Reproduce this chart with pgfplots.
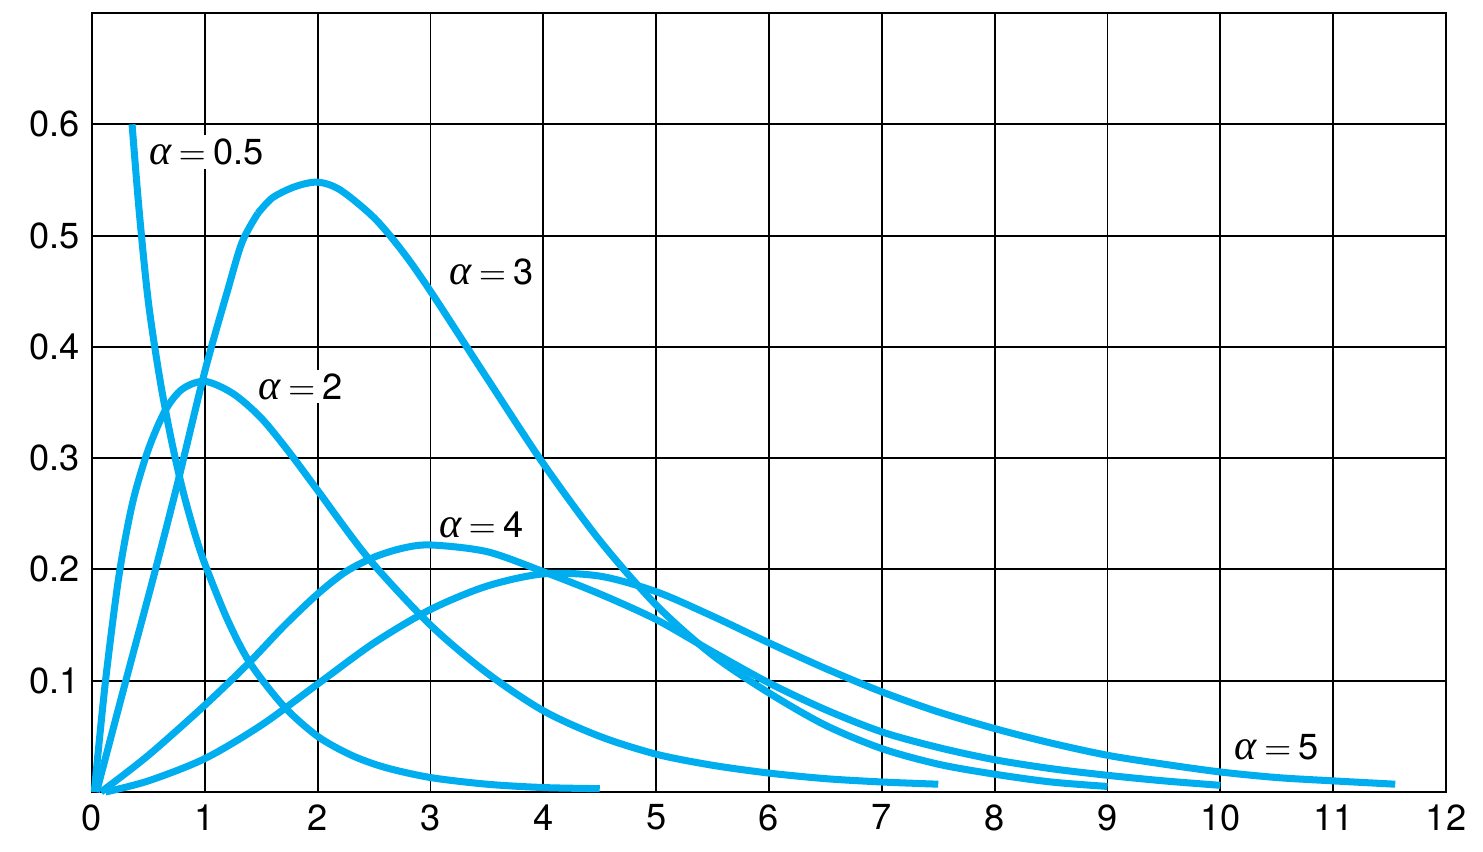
\documentclass[border=0pt]{standalone}
\usepackage{fontspec}
\setmainfont{TeX Gyre Heros}
\newfontfamily\greekit{Liberation Serif}
\usepackage{pgfplots}
\pgfplotsset{compat=1.18}
\definecolor{curve}{RGB}{0,174,239}
\newcommand{\al}[1]{{\greekit\itshape\fontsize{12}{12}\selectfont α}\hspace{0.2em}$=$\hspace{0.2em}#1}

\begin{document}
\begin{tikzpicture}
\begin{axis}[
    name=ax,
    scale only axis,
    width=13.54cm,
    height=7.79cm,
    xmin=0, xmax=12,
    ymin=0, ymax=0.7,
    xtick={0,1,...,12},
    ytick={0.1,0.2,0.3,0.4,0.5,0.6},
    yticklabels={0.1,0.2,0.3,0.4,0.5,0.6},
    grid=major,
    major grid style={black, line width=0.55pt},
    axis line style={black, line width=0.7pt},
    tick style={draw=none},
    /pgf/number format/assume math mode=true,
    tick label style={font=\fontsize{10.3}{12}\selectfont},
    clip=false,
]

% alpha = 0.5
\addplot[curve, line width=2pt, smooth, mark=none] coordinates {
    (0.355,0.600) (0.42,0.520) (0.50,0.440) (0.60,0.372) (0.70,0.318)
    (0.80,0.273) (0.90,0.236) (1.00,0.205) (1.20,0.155) (1.40,0.116)
    (1.70,0.077) (2.00,0.050) (2.30,0.033) (2.60,0.022) (3.00,0.013)
    (3.50,0.007) (4.00,0.004) (4.50,0.003)
};

% alpha = 2
\addplot[curve, line width=2pt, smooth, mark=none] coordinates {
    (0.02,0.000) (0.12,0.100) (0.24,0.195) (0.36,0.260) (0.50,0.308)
    (0.65,0.343) (0.80,0.362) (1.00,0.369) (1.25,0.358) (1.50,0.336)
    (1.75,0.305) (2.00,0.271) (2.45,0.210) (3.00,0.150) (3.50,0.107)
    (4.00,0.073) (4.50,0.050) (5.00,0.034) (5.50,0.024) (6.00,0.017)
    (6.50,0.012) (7.00,0.009) (7.50,0.007)
};

% alpha = 3, rising part up to the bend
\addplot[curve, line width=2pt, smooth, mark=none] coordinates {
    (0.04,0.000) (0.30,0.100) (0.55,0.195) (0.75,0.274) (1.00,0.378)
    (1.20,0.450) (1.33,0.494) (1.47,0.520)
};
% alpha = 3, from the bend on
\addplot[curve, line width=2pt, smooth, mark=none] coordinates {
    (1.47,0.520) (1.60,0.534) (1.80,0.544) (2.00,0.548) (2.20,0.541)
    (2.50,0.516) (2.75,0.486) (3.00,0.450) (3.50,0.372) (4.00,0.295)
    (4.50,0.226) (5.00,0.168) (5.50,0.123) (6.00,0.089) (6.50,0.060)
    (7.00,0.039) (7.50,0.025) (8.00,0.016) (8.50,0.009) (9.00,0.005)
};

% alpha = 4
\addplot[curve, line width=2pt, smooth, mark=none] coordinates {
    (0.08,0.000) (0.50,0.033) (1.00,0.078) (1.39,0.116) (1.70,0.149)
    (2.00,0.178) (2.25,0.198) (2.50,0.211) (2.75,0.219) (3.00,0.222)
    (3.50,0.216) (4.00,0.198) (4.50,0.178) (5.00,0.155) (5.50,0.126)
    (6.00,0.098) (6.50,0.074) (7.00,0.054) (7.50,0.040) (8.00,0.029)
    (8.50,0.021) (9.00,0.015) (9.50,0.010) (10.00,0.006)
};

% alpha = 5
\addplot[curve, line width=2pt, smooth, mark=none] coordinates {
    (0.12,0.000) (0.50,0.010) (1.00,0.030) (1.50,0.060) (2.00,0.097)
    (2.50,0.134) (3.00,0.164) (3.50,0.185) (4.00,0.196) (4.50,0.194)
    (5.00,0.180) (5.50,0.158) (6.00,0.134) (6.50,0.111) (7.00,0.090)
    (7.50,0.072) (8.00,0.057) (8.50,0.044) (9.00,0.033) (9.50,0.025)
    (10.00,0.018) (10.50,0.013) (11.00,0.010) (11.55,0.007)
};

\tikzset{lab/.style={fill=white, inner sep=1pt, anchor=west, font=\fontsize{10.3}{12}\selectfont}}
\node[lab] at (axis cs:0.47,0.575) {\al{0.5}};
\node[lab] at (axis cs:3.13,0.467) {\al{3}};
\node[lab] at (axis cs:1.44,0.364) {\al{2}};
\node[lab] at (axis cs:3.04,0.240) {\al{4}};
\node[lab] at (axis cs:10.09,0.040) {\al{5}};
\end{axis}
\pgfresetboundingbox
\path ([shift={(-0.92cm,-0.59cm)}]ax.south west) rectangle ([shift={(0.37cm,0.13cm)}]ax.north east);
\end{tikzpicture}
\end{document}
